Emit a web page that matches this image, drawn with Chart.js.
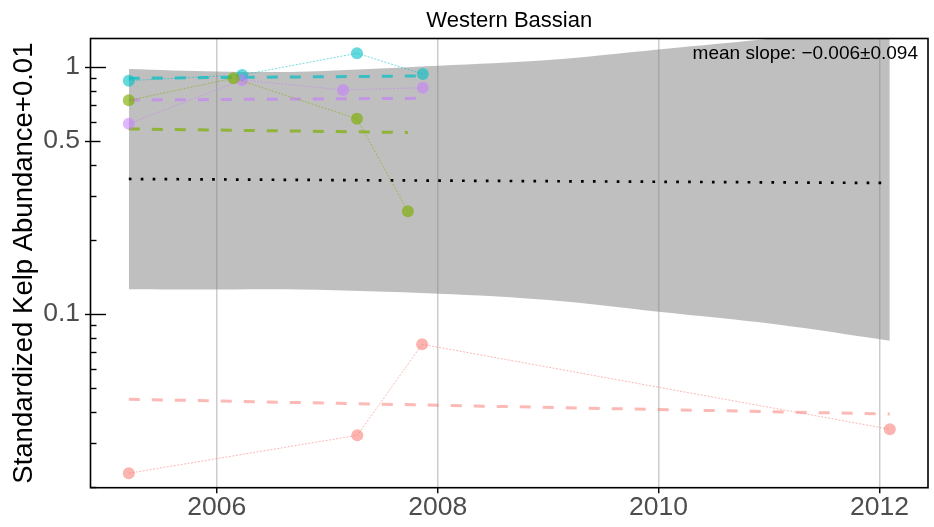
<!DOCTYPE html>
<html><head><meta charset="utf-8">
<script src="https://cdn.jsdelivr.net/npm/chart.js@4/dist/chart.umd.min.js"></script>
<style>html,body{margin:0;padding:0;background:#fff}</style>
</head><body>
<canvas id="c" width="934" height="527"></canvas>
<script>
// ---- data ----
const titleText = 'Western Bassian';
const yAxisTitle = 'Standardized Kelp Abundance+0.01';
const annotationText = 'mean slope: \u22120.006\u00b10.094';

const xTicks = [2006, 2008, 2010, 2012];
const yTickValues = [0.02,0.03,0.04,0.05,0.06,0.07,0.08,0.09,0.1,0.2,0.3,0.4,0.5,0.6,0.7,0.8,0.9,1];
const yTickLabels = {1:'1', 0.5:'0.5', 0.1:'0.1'};

const cyanYears   = [2005.203, 2006.229, 2007.269, 2007.865];
const cyanValues  = [0.878, 0.926, 1.133, 0.934];
const greenYears  = [2005.203, 2006.151, 2007.269, 2007.730];
const greenValues = [0.731, 0.898, 0.616, 0.260];
const purpleYears = [2005.203, 2006.229, 2007.143, 2007.865];
const purpleValues= [0.588, 0.884, 0.805, 0.822];
const pinkYears   = [2005.203, 2007.272, 2007.859, 2012.094];
const pinkValues  = [0.0227, 0.0323, 0.0754, 0.0342];

const cyanTrendYears = [2005.203, 2007.865];   const cyanTrend = [0.898, 0.917];
const purpleTrendYears = [2005.203, 2007.865]; const purpleTrend = [0.733, 0.745];
const greenTrendYears = [2005.203, 2007.730];  const greenTrend = [0.560, 0.542];
const pinkTrendYears = [2005.203, 2012.094];   const pinkTrend = [0.0452, 0.0394];
const meanTrendYears = [2005.203, 2012.094];   const meanTrend = [0.3515, 0.3386];

const bandYears = [2005.203, 2006.0, 2006.746, 2008.009, 2009.0, 2010.0, 2011.076, 2012.094];
const bandUpper = [0.979, 0.956, 0.9545, 1.009, 1.064, 1.174, 1.306, 1.468];
const bandLower = [0.1260, 0.1256, 0.1256, 0.1207, 0.1139, 0.1021, 0.0907, 0.0780];

const xMin = 2004.856, xMax = 2012.44;
const yMin = 0.01984, yMax = 1.300;

// ---- helpers ----
const FONT = '"Liberation Sans", Arial, Helvetica, sans-serif';
const pts = (xs, ys) => xs.map((x, i) => ({x, y: ys[i]}));

function seriesDataset(xs, ys, rgb, pa, la) {
  return {
    data: pts(xs, ys), showLine: true, order: 1,
    borderColor: `rgba(${rgb},${la})`, borderWidth: 1, borderDash: [2, 1.5],
    pointRadius: 6, pointHoverRadius: 6, pointBorderWidth: 0,
    pointBackgroundColor: `rgba(${rgb},${pa})`, fill: false, tension: 0
  };
}
function trendDataset(xs, ys, color, dash, width) {
  return {
    data: pts(xs, ys), showLine: true, order: 5,
    borderColor: color, borderWidth: width, borderDash: dash,
    pointRadius: 0, fill: false, tension: 0
  };
}

const CYAN = '0,191,196', GREEN = '124,174,0', PURPLE = '199,124,255', PINK = '248,118,109';

const datasets = [
  // confidence band
  { data: pts(bandYears, bandUpper), order: 10, borderWidth: 0, pointRadius: 0, fill: false, tension: 0.35, borderColor: 'rgba(0,0,0,0)' },
  { data: pts(bandYears, bandLower), order: 10, borderWidth: 0, pointRadius: 0, fill: '-1', tension: 0.35, borderColor: 'rgba(0,0,0,0)', backgroundColor: 'rgba(128,128,128,0.5)' },
  // trend lines
  trendDataset(pinkTrendYears, pinkTrend, `rgba(${PINK},0.5)`, [11, 12], 3),
  trendDataset(greenTrendYears, greenTrend, `rgba(${GREEN},0.7)`, [11, 12], 3),
  trendDataset(purpleTrendYears, purpleTrend, `rgba(${PURPLE},0.6)`, [11, 12], 3),
  trendDataset(cyanTrendYears, cyanTrend, `rgba(${CYAN},0.7)`, [11, 12], 3),
  trendDataset(meanTrendYears, meanTrend, '#000', [2.7, 9.2], 2.7),
  // observed series
  seriesDataset(pinkYears, pinkValues, PINK, 0.55, 0.5),
  seriesDataset(greenYears, greenValues, GREEN, 0.65, 0.55),
  seriesDataset(purpleYears, purpleValues, PURPLE, 0.55, 0.5),
  seriesDataset(cyanYears, cyanValues, CYAN, 0.6, 0.55),
];

const framePlugin = {
  id: 'frame',
  afterDatasetsDraw(chart) {
    const {ctx, chartArea: a, scales: {y}} = chart;
    ctx.save();
    // y tick marks
    ctx.strokeStyle = '#000';
    ctx.lineWidth = 1.4;
    yTickValues.forEach(v => {
      const py = Math.round(y.getPixelForValue(v)) + 0.5;
      let x0 = a.left, x1 = a.left + 6;
      if (v === 1 || v === 0.1) { x0 = a.left - 5.5; x1 = a.left + 15.5; }
      else if (v === 0.5) { x0 = a.left - 5.5; x1 = a.left + 10; }
      ctx.beginPath(); ctx.moveTo(x0, py); ctx.lineTo(x1, py); ctx.stroke();
    });
    // frame
    ctx.lineWidth = 1.6;
    ctx.strokeRect(a.left, a.top, a.right - a.left, a.bottom - a.top);
    // annotation
    ctx.fillStyle = '#000';
    ctx.font = '19px ' + FONT;
    ctx.textAlign = 'right';
    ctx.textBaseline = 'alphabetic';
    ctx.fillText(annotationText, 918, 59.3);
    ctx.restore();
  }
};

new Chart(document.getElementById('c'), {
  type: 'line',
  data: { datasets },
  plugins: [framePlugin],
  options: {
    responsive: false, animation: false,
    layout: { padding: { left: 0, right: 3.3, top: 0, bottom: 0 } },
    plugins: {
      legend: { display: false }, tooltip: { enabled: false },
      title: {
        display: true, text: titleText, fullSize: false, color: '#000',
        font: { family: FONT, size: 22, weight: 'normal', lineHeight: 1.2 },
        padding: { top: 7.5, bottom: 4.6 }
      }
    },
    scales: {
      x: {
        type: 'linear', min: xMin, max: xMax,
        afterFit(s) { s.height = 39.3; },
        afterBuildTicks(s) { s.ticks = xTicks.map(v => ({value: v})); },
        ticks: { callback: v => String(v), font: { family: FONT, size: 26.5 }, color: '#4d4d4d', padding: -1, maxRotation: 0, autoSkip: false },
        grid: { color: 'rgba(0,0,0,0.2)', lineWidth: 1.5, tickColor: '#000', tickLength: 5.5, tickWidth: 1.4 },
        border: { display: false }
      },
      y: {
        type: 'logarithmic', min: yMin, max: yMax,
        afterFit(s) { s.width = 90.5; },
        afterBuildTicks(s) { s.ticks = yTickValues.map(v => ({value: v})); },
        ticks: { autoSkip: false, callback: v => (yTickLabels[v] !== undefined ? yTickLabels[v] : ''), font: { family: FONT, size: 26.5 }, color: '#4d4d4d', padding: 10.5 },
        grid: { display: false, drawTicks: false },
        border: { display: false },
        title: { display: true, text: yAxisTitle, color: '#000', font: { family: FONT, size: 27.5 }, padding: { top: 8.3, bottom: 0 } }
      }
    }
  }
});
</script>
</body></html>
